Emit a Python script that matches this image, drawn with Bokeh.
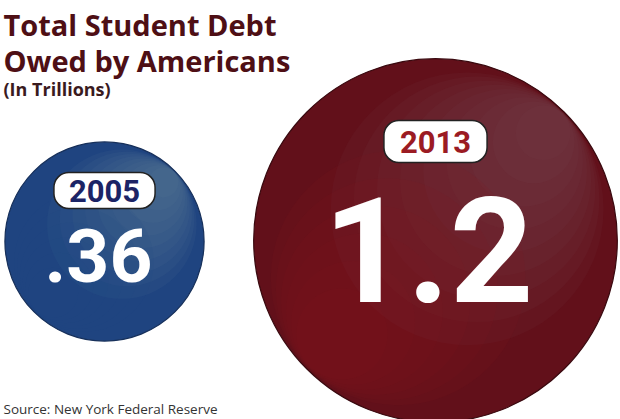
from bokeh.plotting import figure
from bokeh.models import Range1d
from bokeh.core.properties import value
from bokeh.embed import file_html
from bokeh.resources import INLINE
import math

# ---- data ----
years = ["2005", "2013"]
debt_trillions = [0.36, 1.2]
debt_labels = [".36", "1.2"]
title_lines = ["Total Student Debt", "Owed by Americans"]
subtitle = "(In Trillions)"
source = "Source: New York Federal Reserve"

# ---- layout (image pixel coordinates) ----
cx = [104, 435]
cy = [241, 240]
scale = 166.0  # px radius per sqrt(trillion)
radii = [scale * math.sqrt(v) for v in debt_trillions]
fills = ["#1f4480", "#62101a"]
edge_cols = ["#17305a", "#3a0a10"]
sheen = ["#5f8aa0", "#7e4a54"]
glow = ["#1f4a86", "#861a24"]
year_colors = ["#1c2466", "#9b1b23"]
year_y = [190, 141]
year_pad = [[15, 7], [16, 10]]
num_sizes = ["75px", "146px"]
num_x = [98, 428]
num_y = [255, 249]

W, H = 620, 419
p = figure(width=W, height=H, output_backend="svg", toolbar_location=None,
           x_range=Range1d(0, W), y_range=Range1d(H, 0),
           min_border=0, outline_line_color=None)
p.axis.visible = False
p.grid.visible = False
p.background_fill_color = "white"
p.border_fill_color = "white"

# circles
p.circle(x=cx, y=cy, radius=radii, fill_color=fills, line_color=None)
for i in range(2):
    r = radii[i]
    # soft sheen toward the upper right
    for k in range(9):
        rr = r * (0.75 - 0.075 * k)
        off = (r - rr) * 0.985
        p.circle(x=[cx[i] + off * 0.7071], y=[cy[i] - off * 0.7071], radius=[rr],
                 fill_color=sheen[i], fill_alpha=0.09, line_color=None)
    # warmer glow toward the lower left
    for k in range(6):
        rr = r * (0.7 - 0.09 * k)
        off = (r - rr) * 0.97
        p.circle(x=[cx[i] - off * 0.7071], y=[cy[i] + off * 0.7071], radius=[rr],
                 fill_color=glow[i], fill_alpha=0.12, line_color=None)
    p.circle(x=[cx[i]], y=[cy[i]], radius=[r], fill_color=None,
             line_color=edge_cols[i], line_width=1.2)

# year pills
for i in range(2):
    p.text(x=[cx[i]], y=[year_y[i]], text=[years[i]], text_align="center",
           text_baseline="middle", text_font=value("Roboto"),
           text_font_style="bold", text_font_size="31px",
           text_color=year_colors[i], background_fill_color="white",
           border_line_color="#222222", border_line_width=1.5,
           border_radius=15, padding=year_pad[i])

# big numbers
for i in range(2):
    p.text(x=[num_x[i]], y=[num_y[i]], text=[debt_labels[i]], text_align="center",
           text_baseline="middle", text_font=value("Roboto"),
           text_font_style="bold", text_font_size=num_sizes[i],
           text_color="white")

# titles
p.text(x=[3, 3], y=[24, 60], text=title_lines, text_font=value("Open Sans"),
       text_font_style="bold", text_font_size="29px", text_color="#4e0f15",
       text_baseline="alphabetic")
p.text(x=[3], y=[88], text=[subtitle], text_font=value("Open Sans"),
       text_font_style="bold", text_font_size="18px", text_color="#3a1a1e",
       text_baseline="alphabetic")
p.text(x=[3], y=[408], text=[source], text_font=value("Open Sans"),
       text_font_size="13.5px", text_color="#333333", text_baseline="alphabetic")

open("out.html", "w").write(file_html(p, INLINE))
